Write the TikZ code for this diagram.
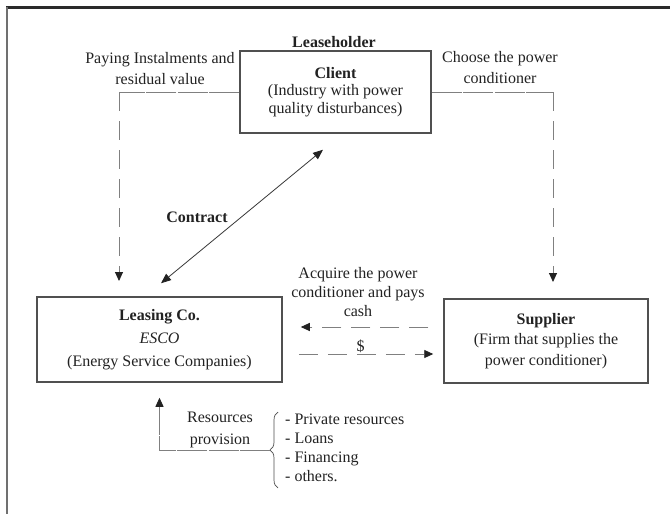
\documentclass[tikz,border=0pt]{standalone}
\usepackage{fontspec}
\setmainfont{Liberation Serif}
\usetikzlibrary{arrows.meta,calc,decorations.pathreplacing}

\definecolor{ink}{HTML}{222222}
\definecolor{boxline}{HTML}{505050}
\definecolor{conn}{HTML}{808080}
\definecolor{frameA}{HTML}{2A2A2A}
\definecolor{frameB}{HTML}{707070}

\begin{document}
\begin{tikzpicture}[x=1pt,y=-1pt,
  txt/.style={font=\fontsize{16}{19}\selectfont, text=ink, align=center, inner sep=0pt},
  box/.style={draw=boxline, line width=1.5pt, fill=white, align=center, text=ink,
              font=\fontsize{16}{19}\selectfont, inner sep=2pt},
  tipend/.style={-{Triangle[length=9pt,width=8pt,color=ink]}},
  tipboth/.style={{Triangle[length=10pt,width=8pt,color=ink]}-{Triangle[length=10pt,width=8pt,color=ink]}},
  hdash/.style={draw=conn, line width=0.8pt, dash pattern=on 30pt off 1.5pt},
  vdash/.style={draw=conn, line width=0.9pt, dash pattern=on 19pt off 10pt},
  solidarrow/.style={draw=ink!90, line width=0.8pt}]

\useasboundingbox (0,0) rectangle (670,514);
\fill[white] (0,0) rectangle (670,514);

% page frame (top and left edges)
\draw[frameA, line width=2.5pt] (6,7.5) -- (672,7.5);
\draw[frameB, line width=2pt] (7,6.5) -- (7,516);

% the three parties
\node[box, minimum width=191pt, minimum height=82pt, font=\fontsize{16}{17.5}\selectfont]
  (client) at (335.5,92) {\textbf{Client}\\(Industry with power\\quality disturbances)};
\node[box, minimum width=245pt, minimum height=85pt, font=\fontsize{16}{23}\selectfont]
  (leasing) at (159.5,339.5) {\textbf{Leasing Co.}\\\textit{ESCO}\\(Energy Service Companies)};
\node[box, minimum width=204pt, minimum height=84pt, font=\fontsize{16}{20.5}\selectfont]
  (supplier) at (546,341) {\textbf{Supplier}\\(Firm that supplies the\\power conditioner)};

% labels
\node[txt, font=\bfseries\fontsize{16}{19}\selectfont] (lease) at (334,42) {Leaseholder};
\node[txt, font=\fontsize{16}{21}\selectfont] (paying) at (160,68.5) {Paying Instalments and\\residual value};
\node[txt, font=\fontsize{16}{21}\selectfont] (choose) at (500,67.5) {Choose the power\\conditioner};
\node[txt, font=\bfseries\fontsize{16}{19}\selectfont] (contract) at (197,217) {Contract};
\node[txt] (acquire) at (358,292) {Acquire the power\\conditioner and pays\\cash};
\node[txt, font=\fontsize{16}{22}\selectfont] (resprov) at (220,430) {Resources\\provision};
\node[txt, align=left, anchor=west] (sources) at (285,447.5)
  {- Private resources\\- Loans\\- Financing\\- others.};

% corners and free ends of the connectors
\coordinate (lcorner) at (119,92);
\coordinate (ltip) at (119,281);
\coordinate (rcorner) at (553,92);
\coordinate (rtip) at (553,282);
\coordinate (btop) at (278,412);
\coordinate (bbot) at (278,488);
\coordinate (btip) at (270,450);

% client pays the leasing company
\draw[hdash] (client.west) -- (lcorner);
\draw[vdash, tipend] (lcorner) -- (ltip);

% client chooses the supplier's conditioner
\draw[hdash] (client.east) -- (rcorner);
\draw[vdash, tipend] (rcorner) -- (rtip);

% contract between client and leasing company
\draw[solidarrow, tipboth] ($(leasing.north)+(1.5,-13)$) -- ($(client.south)+(-12.5,16)$);

% purchase of the conditioner and payment
\draw[vdash, tipend] ($(supplier.west)+(-15,-14)$) -- ($(leasing.east)+(18,-12.5)$);
\draw[vdash, tipend] ($(leasing.east)+(16,14.5)$) --
  node[pos=0.46, above=1pt, txt] (cash) {\$} ($(supplier.west)+(-10,13)$);

% funding sources of the leasing company
\draw[draw=ink!80, line width=0.7pt, decorate, decoration={brace, amplitude=8pt}] (bbot) -- (btop);
\draw[hdash, tipend] (btip) -| ($(leasing.south)+(0,15)$);

\end{tikzpicture}
\end{document}
